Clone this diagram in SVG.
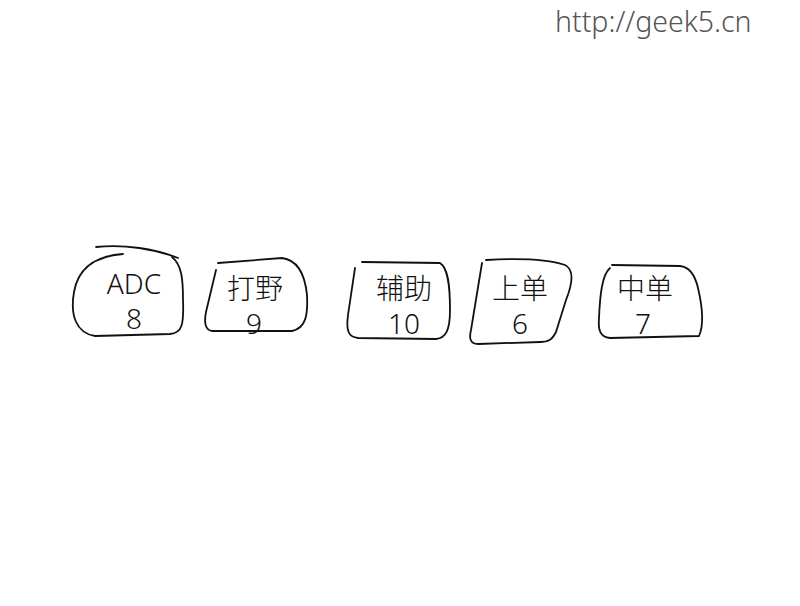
<svg xmlns="http://www.w3.org/2000/svg" width="800" height="606" viewBox="0 0 800 606">
<style>
.o{fill:none;stroke:#111;stroke-width:1.8;stroke-linecap:round;stroke-linejoin:round}
.t{font-family:"Noto Sans","Noto Sans CJK SC",sans-serif;font-size:28px;font-weight:300;fill:#111;text-anchor:middle}
.u{font-family:"Noto Sans",sans-serif;font-size:28.5px;font-weight:300;fill:#555}
</style>
<rect width="800" height="606" fill="#fff"/>
<text class="u" x="555" y="32">http://geek5.cn</text>
<g id="node-adc">
<path class="o" d="M96,247 C125,244 155,249 178,258"/>
<path class="o" d="M123,254 C95,256 78,268 74,292 C70,315 76,333 95,336 L170,334 C182,333 184,325 183,300 C183,280 182,265 172,257"/>
<text class="t" x="134" y="294">ADC</text>
<text class="t" x="134" y="329">8</text>
</g>
<g id="node-daye">
<path class="o" d="M218,263 L282,258 C298,260 305,275 307,295 C308,315 306,328 292,331 L212,331 C205,330 204,322 206,312 L216,270"/>
<text class="t" x="255" y="299">打野</text>
<text class="t" x="254" y="334">9</text>
</g>
<g id="node-fuzhu">
<path class="o" d="M362,262 L440,263 C448,268 450,285 450,310 C450,330 446,338 436,339 L358,338 C348,337 346,330 348,315 L355,268"/>
<text class="t" x="404" y="299">辅助</text>
<text class="t" x="404" y="334">10</text>
</g>
<g id="node-shangdan">
<path class="o" d="M486,260 C520,258 550,260 565,265 C575,270 572,285 566,300 L556,332 C552,340 548,342 540,342 L478,344 C470,344 469,338 471,330 L482,263"/>
<text class="t" x="520" y="299">上单</text>
<text class="t" x="520" y="334">6</text>
</g>
<g id="node-zhongdan">
<path class="o" d="M612,265 L680,266 C690,267 695,275 698,288 C702,305 704,325 699,336 L610,338 C600,337 598,330 599,318 C600,295 602,275 610,268"/>
<text class="t" x="645" y="299">中单</text>
<text class="t" x="643" y="334">7</text>
</g>
<g id="connectors"></g>
</svg>
